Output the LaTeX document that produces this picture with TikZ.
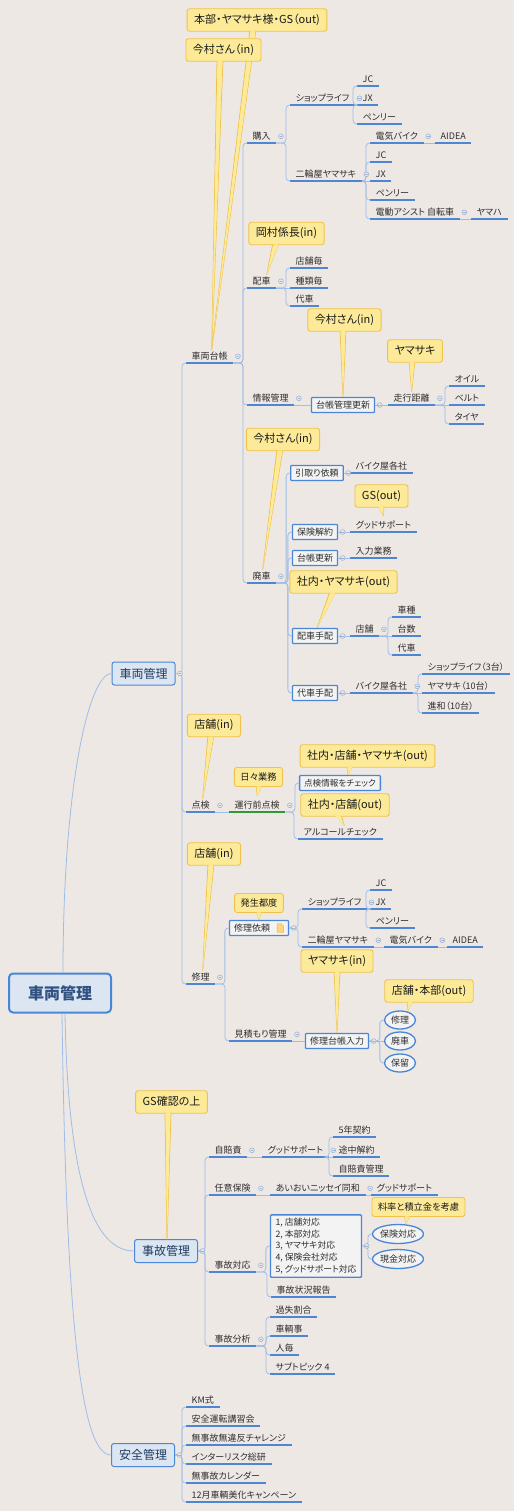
\documentclass[tikz,border=0pt]{standalone}
\usepackage{fontspec}
\newfontfamily\jp[RawFeature=+palt]{Noto Sans CJK JP}
\usetikzlibrary{shapes.geometric,calc}
\pgfdeclarelayer{bgl}
\pgfdeclarelayer{tails}
\pgfsetlayers{bgl,tails,main}
\definecolor{bgc}{HTML}{EEE8E4}
\definecolor{ulc}{HTML}{4F86D4}
\definecolor{ulgc}{HTML}{2E9A34}
\definecolor{cnc}{HTML}{9EBDE8}
\definecolor{boxc}{HTML}{4A86D6}
\definecolor{boxf}{HTML}{F3F3F3}
\definecolor{mbf}{HTML}{DCE6F2}
\definecolor{cfill}{HTML}{FCEA98}
\definecolor{cdraw}{HTML}{F0C24A}
\definecolor{txt}{HTML}{2E2E2E}
\definecolor{mtxt}{HTML}{1F3A60}
\definecolor{rtxt}{HTML}{2F5283}
\definecolor{mkc}{HTML}{9AB5DA}
\definecolor{ctxt}{HTML}{1A1A1A}
\tikzset{
  every node/.style={font=\jp},
  topic/.style={anchor=south west, font=\jp\fontsize{9}{10}\selectfont, text=txt,
    inner xsep=5.5pt, inner ysep=2pt, text height=7.5pt, text depth=1.5pt},
  uline/.style={draw=ulc, line width=1.2pt},
  ulg/.style={draw=ulgc, line width=1.2pt},
  conn/.style={draw=cnc, line width=0.8pt, rounded corners=3.5pt},
  boxt/.style={draw=boxc, line width=1.3pt, fill=boxf, font=\jp\fontsize{9}{10}\selectfont,
    text=txt, inner xsep=4.5pt, inner ysep=3pt, text height=7.5pt, text depth=1.5pt, rounded corners=0.8pt},
  boxl/.style={draw=boxc, line width=1.3pt, fill=boxf, font=\jp\fontsize{8.8}{11.8}\selectfont,
    text=txt, inner xsep=5pt, inner ysep=3pt, align=left, rounded corners=0.8pt},
  ell/.style={ellipse, draw=boxc, line width=1.3pt, fill=boxf, minimum width=31pt, minimum height=18pt,
    inner sep=0pt, font=\jp\fontsize{9}{10}\selectfont, text=txt},
  mainbox/.style={fill=mbf, draw=boxc, line width=1pt, rounded corners=2.5pt,
    font=\jp\fontsize{12}{14}\selectfont, text=mtxt, minimum width=63pt, minimum height=23pt, inner sep=0pt},
  rootbox/.style={fill=mbf, draw=boxc, line width=2pt, rounded corners=4pt,
    font=\jp\bfseries\fontsize{16}{18}\selectfont, text=rtxt, minimum width=102pt, minimum height=39pt, inner sep=0pt},
  callout/.style={fill=cfill, draw=cdraw, line width=0.9pt, rounded corners=2.5pt,
    font=\jp\fontsize{11}{12}\selectfont, text=ctxt, inner xsep=7pt, inner ysep=5.5pt, text height=9pt, text depth=2.5pt},
  callsm/.style={callout, font=\jp\fontsize{9.2}{10}\selectfont, inner xsep=6pt, inner ysep=4.5pt,
    text height=8pt, text depth=2pt},
  tail/.style={fill=cfill, draw=cdraw, line width=0.8pt, line join=round},
  mkst/.style={draw=mkc, line width=0.6pt, fill=bgc},
  mkln/.style={draw=mkc, line width=0.5pt},
  icon/.style={fill=cfill!80!orange, draw=cdraw!80!orange, line width=0.4pt}
}
\newcommand\tul[2][uline]{\draw[#1] (#2.south west) -- (#2.south east);}
\newcommand\tp[3]{\node[topic] (#1) at (#2) {#3}; \tul{#1}}
\newcommand\tmk[1]{\draw[mkst] ([xshift=4.5pt]#1.east) circle (2.4pt);
  \draw[mkln] ([xshift=3.2pt]#1.east) -- ([xshift=5.8pt]#1.east);}
\newcommand\tlink[2]{\draw[conn] (#1) -| ([xshift=-4pt]#2) -- (#2);}
\newcommand\tstr[2]{\draw[conn] (#1) -- (#2);}
\newcommand\tcall[6][callout]{%
  \node[#1] (#2) at (#3) {#4};
  \begin{pgfonlayer}{tails}
  \filldraw[tail] let \p1=(#2.south) in ({#5pt-3pt},{\y1+2.5pt}) -- (#6) -- ({#5pt+3pt},{\y1+2.5pt}) -- cycle;
  \end{pgfonlayer}
  \fill[cfill] let \p1=(#2.south) in ({#5pt-2.4pt},{\y1+0.7pt}) -- (#6) -- ({#5pt+2.4pt},{\y1+0.7pt}) -- cycle;
}
\begin{document}
\begin{tikzpicture}[x=1pt,y=-1pt]
\begin{pgfonlayer}{bgl}\fill[bgc] (0,0) rectangle (514,1511);\end{pgfonlayer}
\useasboundingbox (0,0) rectangle (514,1511);

% ---------- root and main branches
\node[rootbox] (root) at (60,993) {車両管理};
\node[mainbox] (cm) at (143.5,673.5) {車両管理};
\node[mainbox] (jk) at (166,1251) {事故管理};
\node[mainbox] (az) at (143,1455) {安全管理};
\draw[conn] ([xshift=3pt]root.north) .. controls +(0,-190) and +(-22,0) .. (cm.west);
\draw[conn] ([xshift=5pt]root.south) .. controls +(3,170) and +(-40,0) .. (jk.west);
\draw[conn] ([xshift=2pt]root.south) .. controls +(4,290) and +(-32,0) .. (az.west);

% ---------- 車両台帳
\tp{kd}{186,363}{車両台帳}
\tp{kn}{247,143}{購入}
\tp{sla}{290,105}{ショップライフ}
\tp{jca}{357,86}{JC}
\tp{jxa}{357,105}{JX}
\tp{pna}{357,124}{ペンリー}
\tp{nya}{290,181}{二輪屋ヤマサキ}
\tp{dba}{370,143}{電気バイク}
\tp{aia}{435,143}{AIDEA}
\tp{jcb}{370,162}{JC}
\tp{jxb}{370,181}{JX}
\tp{pnb}{370,200}{ペンリー}
\tp{daa}{370,219}{電動アシスト 自転車}
\tp{yha}{471,219}{ヤマハ}
\tp{hs}{247,288}{配車}
\tp{tm}{290,268}{店舗毎}
\tp{sr}{290,288}{種類毎}
\tp{dsa}{290,306}{代車}
\tp{jh}{247,405}{情報管理}
\node[boxt] (dk) at (343,405) {台帳管理更新};
\tp{sk}{388,405}{走行距離}
\tp{oi}{449,386}{オイル}
\tp{be}{449,405}{ベルト}
\tp{ta}{449,424}{タイヤ}
\tp{hi}{247,583}{廃車}
\node[boxt] (hk) at (317,473) {引取り依頼};
\tp{bka}{350,473}{バイク屋各社}
\node[boxt] (hky) at (315,532) {保険解約};
\tp{gsa}{350,532}{グッドサポート}
\node[boxt] (dko) at (315,558) {台帳更新};
\tp{nr}{350,558}{入力業務}
\node[boxt] (hsk) at (315,636) {配車手配};
\tp{tp}{350,636}{店舗}
\tp{ss}{392,617}{車種}
\tp{ds}{392,636}{台数}
\tp{dsb}{392,655}{代車}
\node[boxt] (dsk) at (315,693) {代車手配};
\tp{bkb}{350,693}{バイク屋各社}
\tp{sl3}{422,674}{ショップライフ（3台）}
\tp{ym10}{422,693}{ヤマサキ（10台）}
\tp{sw10}{422,713}{進和（10台）}

% ---------- 点検
\node[topic] (tk) at (186,812) {点検}; \tul{tk}
\node[topic] (ug) at (229,812) {運行前点検}; \tul[ulg]{ug}
\node[boxt, font=\jp\fontsize{8.6}{10}\selectfont] (tj) at (340,783) {点検情報をチェック};
\tp{ac}{298,839}{アルコールチェック}

% ---------- 修理
\tp{sy}{186,984}{修理}
\node[boxt] (si) at (259,928) {修理依頼\rule{14pt}{0pt}};
\draw[icon] ($(si.east)+(-12,-4.5)$) -- ++(4,0) -- ++(2.5,2.5) -- ++(0,6.5) -- ++(-6.5,0) -- cycle;
\tp{slc}{302,909}{ショップライフ}
\tp{jcc}{370,890}{JC}
\tp{jxc}{370,909}{JX}
\tp{pnc}{370,928}{ペンリー}
\tp{nyc}{302,947}{二輪屋ヤマサキ}
\tp{dbc}{384,947}{電気バイク}
\tp{aic}{447,947}{AIDEA}
\tp{mkr}{229,1041}{見積もり管理}
\node[boxt] (sdn) at (337,1041) {修理台帳入力};
\node[ell] (e1) at (400,1020) {修理};
\node[ell] (e2) at (400,1041) {廃車};
\node[ell] (e3) at (400,1063) {保留};

% ---------- 事故管理
\tp{jb}{209,1157}{自賠責}
\tp{gsb}{262,1157}{グッドサポート}
\tp{c5}{333,1137}{5年契約}
\tp{tc}{333,1157}{途中解約}
\tp{jbk}{333,1176}{自賠責管理}
\tp{nh}{209,1195}{任意保険}
\tp{ai}{270,1195}{あいおいニッセイ同和}
\tp{gsc}{371,1195}{グッドサポート}
\tp{jt}{209,1272}{事故対応}
\node[boxl] (lb) at (316,1246) {1, 店舗対応\\2, 本部対応\\3, ヤマサキ対応\\4, 保険会社対応\\5, グッドサポート対応};
\node[ell, minimum width=50pt, minimum height=19pt] (hkt) at (398,1234) {保険対応};
\node[ell, minimum width=50pt, minimum height=19pt] (gkt) at (398,1259) {現金対応};
\tp{jjh}{271,1297}{事故状況報告}
\tp{jbn}{209,1346}{事故分析}
\tp{kw}{270,1317}{過失割合}
\tp{sj}{270,1336}{車輌事}
\tp{hg}{270,1355}{人毎}
\tp{st4}{270,1374}{サブトピック 4}

% ---------- 安全管理
\tp{km}{186,1407}{KM式}
\tp{aku}{186,1426}{安全運転講習会}
\tp{mmc}{186,1445}{無事故無違反チャレンジ}
\tp{irs}{186,1464}{インターリスク総研}
\tp{mkl}{186,1483}{無事故カレンダー}
\tp{dec}{186,1502}{12月車輌美化キャンペーン}

% ---------- connectors
\tlink{cm.east}{kd.south west} \tlink{cm.east}{tk.south west} \tlink{cm.east}{sy.south west}
\tlink{kd.south east}{kn.south west} \tlink{kd.south east}{hs.south west}
\tlink{kd.south east}{jh.south west} \tlink{kd.south east}{hi.south west}
\tlink{kn.south east}{sla.south west} \tlink{kn.south east}{nya.south west}
\tlink{sla.south east}{jca.south west} \tstr{sla.south east}{jxa.south west} \tlink{sla.south east}{pna.south west}
\tlink{nya.south east}{dba.south west} \tlink{nya.south east}{jcb.south west}
\tstr{nya.south east}{jxb.south west} \tlink{nya.south east}{pnb.south west} \tlink{nya.south east}{daa.south west}
\tstr{dba.south east}{aia.south west} \tstr{daa.south east}{yha.south west}
\tlink{hs.south east}{tm.south west} \tstr{hs.south east}{sr.south west} \tlink{hs.south east}{dsa.south west}
\tstr{jh.south east}{dk.west} \tstr{dk.east}{sk.south west}
\tlink{sk.south east}{oi.south west} \tstr{sk.south east}{be.south west} \tlink{sk.south east}{ta.south west}
\tlink{hi.south east}{hk.west} \tlink{hi.south east}{hky.west} \tlink{hi.south east}{dko.west}
\tlink{hi.south east}{hsk.west} \tlink{hi.south east}{dsk.west}
\tstr{hk.east}{bka.south west} \tstr{hky.east}{gsa.south west} \tstr{dko.east}{nr.south west}
\tstr{hsk.east}{tp.south west}
\tlink{tp.south east}{ss.south west} \tstr{tp.south east}{ds.south west} \tlink{tp.south east}{dsb.south west}
\tstr{dsk.east}{bkb.south west}
\tlink{bkb.south east}{sl3.south west} \tstr{bkb.south east}{ym10.south west} \tlink{bkb.south east}{sw10.south west}
\tstr{tk.south east}{ug.south west}
\tlink{ug.south east}{tj.west} \tlink{ug.south east}{ac.south west}
\tlink{sy.south east}{si.west} \tlink{sy.south east}{mkr.south west}
\tlink{si.east}{slc.south west} \tlink{si.east}{nyc.south west}
\tlink{slc.south east}{jcc.south west} \tstr{slc.south east}{jxc.south west} \tlink{slc.south east}{pnc.south west}
\tstr{nyc.south east}{dbc.south west} \tstr{dbc.south east}{aic.south west}
\tstr{mkr.south east}{sdn.west}
\tlink{sdn.east}{e1.west} \tstr{sdn.east}{e2.west} \tlink{sdn.east}{e3.west}
\tlink{jk.east}{jb.south west} \tlink{jk.east}{nh.south west} \tlink{jk.east}{jt.south west} \tlink{jk.east}{jbn.south west}
\tstr{jb.south east}{gsb.south west}
\tlink{gsb.south east}{c5.south west} \tstr{gsb.south east}{tc.south west} \tlink{gsb.south east}{jbk.south west}
\tstr{nh.south east}{ai.south west} \tstr{ai.south east}{gsc.south west}
\tlink{jt.south east}{lb.west} \tlink{jt.south east}{jjh.south west}
\tlink{lb.east}{hkt.west} \tlink{lb.east}{gkt.west}
\tlink{jbn.south east}{kw.south west} \tlink{jbn.south east}{sj.south west}
\tlink{jbn.south east}{hg.south west} \tlink{jbn.south east}{st4.south west}
\tlink{az.east}{km.south west} \tlink{az.east}{aku.south west} \tlink{az.east}{mmc.south west}
\tlink{az.east}{irs.south west} \tlink{az.east}{mkl.south west} \tlink{az.east}{dec.south west}

% ---------- collapse markers
\tmk{cm} \tmk{jk} \tmk{az}
\tmk{kd} \tmk{kn} \tmk{sla} \tmk{nya} \tmk{dba} \tmk{daa} \tmk{hs} \tmk{jh} \tmk{dk} \tmk{sk}
\tmk{hi} \tmk{hk} \tmk{hky} \tmk{dko} \tmk{hsk} \tmk{tp} \tmk{dsk} \tmk{bkb}
\tmk{tk} \tmk{ug} \tmk{sy} \tmk{si} \tmk{slc} \tmk{nyc} \tmk{dbc} \tmk{mkr} \tmk{sdn}
\tmk{jb} \tmk{gsb} \tmk{nh} \tmk{ai} \tmk{jt} \tmk{lb} \tmk{jbn}

% ---------- callouts
\tcall{ca}{257,20}{本部・ヤマサキ様・GS（out)}{253}{[xshift=2pt]kd.north}
\tcall{cb}{223.5,50}{今村さん（in)}{220}{[xshift=2pt]kd.north}
\tcall{cc}{286.5,233.5}{岡村係長(in)}{276}{[xshift=5pt]hs.north}
\tcall{cd}{344.5,320}{今村さん(in)}{343}{dk.north}
\tcall{ce}{415,351}{ヤマサキ}{412}{sk.north}
\tcall{cf}{283,439.5}{今村さん(in)}{280}{[xshift=1pt]hi.north}
\tcall{cg}{381.5,496}{GS(out)}{381}{[yshift=3pt]gsa.north}
\tcall{ch}{343.5,582}{社内・ヤマサキ(out)}{333}{[xshift=2pt]hsk.north}
\tcall{ci}{214,725.5}{店舗(in)}{211}{[xshift=2pt]tk.north}
\tcall[callsm]{cj}{258.5,777}{日々業務}{259}{[yshift=3pt]ug.north}
\tcall{ck}{367.5,756}{社内・店舗・ヤマサキ(out)}{350}{[xshift=8pt]tj.north}
\tcall{cl}{345,805}{社内・店舗(out)}{338}{[xshift=4pt]ac.north}
\tcall{cm2}{214,854}{店舗(in)}{211}{[xshift=2pt]sy.north}
\tcall[callsm]{cn}{259,903}{発生都度}{259}{si.north}
\tcall{co}{337,961}{ヤマサキ(in)}{337}{sdn.north}
\tcall{cp}{429,991}{店舗・本部(out)}{410}{[xshift=8pt]e1.north}
\tcall{cq}{171.5,1102}{GS確認の上}{168}{[xshift=1pt,yshift=-4pt]jk.north}
\tcall[callsm]{cr}{418.5,1207}{料率と積立金を考慮}{407}{[xshift=8pt]hkt.north}
\end{tikzpicture}
\end{document}
